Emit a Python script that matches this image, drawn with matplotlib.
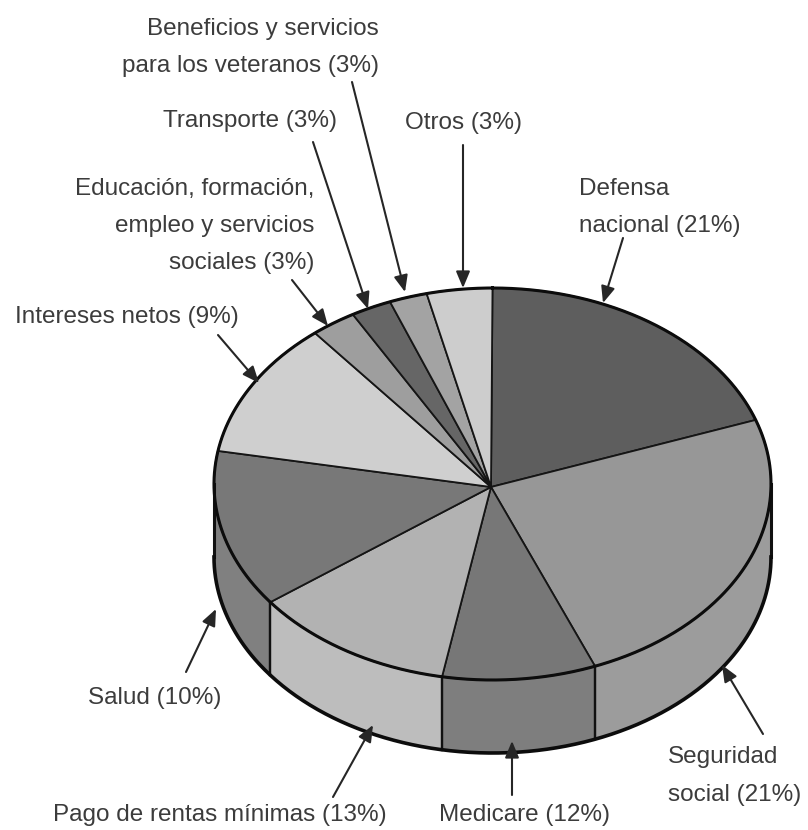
import numpy as np
import matplotlib
matplotlib.use("Agg")
import matplotlib.pyplot as plt

# Drawn slice shares (clockwise from 12 o'clock)
categories = ["Defensa", "Seguridad", "Medicare", "Pago", "Salud", "Intereses",
              "Educacion", "Transporte", "Beneficios", "Otros"]
shares = [19.7, 24.3, 8.9, 11.8, 13.0, 11.3, 2.64, 2.36, 2.2, 3.8]
face_colors = ["#5e5e5e", "#979797", "#777777", "#b2b2b2", "#787878",
               "#cfcfcf", "#9e9e9e", "#666666", "#a3a3a3", "#cdcdcd"]
wall_colors = ["#5e5e5e", "#9c9c9c", "#7e7e7e", "#bdbdbd", "#808080",
               "#cfcfcf", "#9e9e9e", "#666666", "#a3a3a3", "#cdcdcd"]
labels = ["Beneficios y servicios\npara los veteranos (3%)", "Transporte (3%)",
          "Otros (3%)", "Educación, formación,\nempleo y servicios\nsociales (3%)",
          "Defensa\nnacional (21%)", "Intereses netos (9%)", "Salud (10%)",
          "Pago de rentas mínimas (13%)", "Medicare (12%)", "Seguridad\nsocial (21%)"]
label_anchor = [(379, 47.5, "right"), (337, 121, "right"), (405, 123, "left"),
                (314, 226, "right"), (579, 207.5, "left"), (239, 317, "right"),
                (221, 698, "right"), (387, 815, "right"), (439, 815, "left"),
                (668, 776, "left")]
arrow_from = [(352, 82), (313, 142), (463, 145), (292, 280), (623, 238), (218, 335),
              (186, 672), (333, 797), (512, 795), (763, 734)]
arrow_to = [(405, 292), (368, 309), (463, 288), (328, 326), (603, 303), (259, 383),
            (216, 609), (373, 725), (512, 741), (722, 665)]

W, H = 808, 830
cx, cy, rx, ry, depth = 492.5, 484, 278.5, 196, 73
apex_offset = -3 / ry
apex_x = -1.5 / rx

fig = plt.figure(figsize=(W / 100, H / 100), dpi=100)
page = fig.add_axes([0, 0, 1, 1], zorder=3)
page.set_xlim(0, W)
page.set_ylim(H, 0)
page.axis("off")
page.patch.set_alpha(0)

bottom_px = cy + ry + depth
ax = fig.add_axes([(cx - rx) / W, 1 - bottom_px / H, 2 * rx / W, (2 * ry + depth) / H])
d = depth / ry
ax.set_xlim(-1, 1)
ax.set_ylim(-1 - d, 1)
ax.axis("off")

edges = np.cumsum([0] + shares) / sum(shares) * 2 * np.pi
for a0, a1, col, wall in zip(edges[:-1], edges[1:], face_colors, wall_colors):
    t = np.linspace(a0, a1, 200)
    ax.fill(np.r_[apex_x, np.sin(t)], np.r_[apex_offset, np.cos(t)], facecolor=col,
            edgecolor="#151515", lw=1.3, zorder=2)
    lo, hi = max(a0, np.pi / 2), min(a1, 3 * np.pi / 2)
    if hi <= lo:
        continue
    t = np.linspace(lo, hi, 120)
    x, y = np.sin(t), np.cos(t)
    ax.fill_between(x, y, y - d, color=wall, lw=0, zorder=0.5)
    for end in (lo, hi):
        width = 2.2 if end in (np.pi / 2, 3 * np.pi / 2) else 1.6
        ax.plot([np.sin(end)] * 2, [np.cos(end), np.cos(end) - d], color="#111111",
                lw=width, zorder=3, clip_on=False)

t = np.linspace(0, 2 * np.pi, 720)
ax.plot(np.sin(t), np.cos(t), color="#0c0c0c", lw=2.2, zorder=4, clip_on=False)
t = np.linspace(np.pi / 2, 3 * np.pi / 2, 360)
ax.plot(np.sin(t), np.cos(t) - d, color="#0c0c0c", lw=2.6, zorder=4, clip_on=False)

for text, (x, y, ha) in zip(labels, label_anchor):
    page.text(x, y, text, ha=ha, va="center", fontsize=17.5, family="Liberation Sans",
              color="#3c3c3c", linespacing=1.9)

for p0, p1 in zip(arrow_from, arrow_to):
    page.annotate("", xy=p1, xytext=p0,
                  arrowprops=dict(arrowstyle="-|>,head_width=0.42,head_length=1.0",
                                  color="#262626", lw=1.5, shrinkA=0, shrinkB=0))

fig.savefig("out.png", dpi=100)
